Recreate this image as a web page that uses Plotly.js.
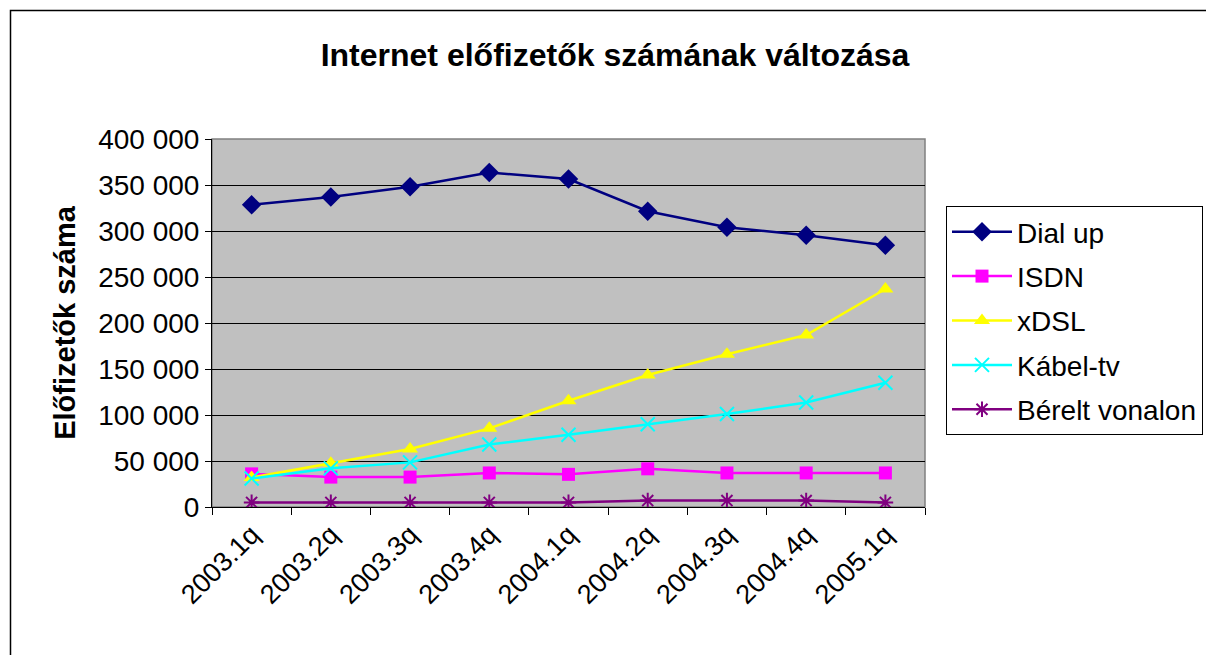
<!DOCTYPE html>
<html>
<head>
<meta charset="utf-8">
<script src="https://cdn.plot.ly/plotly-3.0.1.min.js"></script>
<style>html,body{margin:0;padding:0;background:#fff;}#chart{width:1206px;height:655px;}</style>
</head>
<body>
<div id="chart"></div>
<script>
const categories = ["2003.1q","2003.2q","2003.3q","2003.4q","2004.1q","2004.2q","2004.3q","2004.4q","2005.1q"];
const dialUp  = [328500, 337000, 348000, 363500, 356500, 321500, 304000, 295500, 284500];
const isdn    = [36000, 32500, 32500, 37000, 35500, 41500, 37000, 37000, 37000];
const xdsl    = [32000, 47500, 63000, 85500, 115500, 143500, 166000, 187000, 237000];
const kabelTv = [31000, 42000, 48500, 68000, 78500, 90000, 101000, 113500, 135000];
const berelt  = [5000, 5000, 5000, 5000, 5000, 7000, 7000, 7000, 5000];
const seriesNames = ["Dial up","ISDN","xDSL","Kábel-tv","Bérelt vonalon"];
const yTicks = [0,50000,100000,150000,200000,250000,300000,350000,400000];

const FONT = "Arial, 'Liberation Sans', sans-serif";
function tr(y, name, color, symbol, size, group, open){
  return {
    x: categories, y: y, name: name, type: 'scatter', mode: 'lines+markers',
    legendgroup: group,
    line: {color: color, width: 2.5},
    marker: {symbol: symbol, size: size, color: color, line: {color: color, width: open ? 2 : 0}}
  };
}
const data = [
  tr(dialUp, seriesNames[0], '#000080', 'diamond', 15, 'a', false),
  tr(isdn, seriesNames[1], '#FF00FF', 'square', 13, 'b', false),
  tr(xdsl, seriesNames[2], '#FFFF00', 'triangle-up', 14, 'c', false),
  tr(kabelTv, seriesNames[3], '#00FFFF', 'x-thin-open', 14, 'd', true),
  tr(berelt, seriesNames[4], '#800080', 'asterisk-open', 13, 'e', true)
];
const L=212, R=925, T=139, B=507;
const W=R-L, H=B-T;
function px(x){return (x-L)/W;}
function py(y){return (B-y)/H;}
const layout = {
  width: 1206, height: 655,
  margin: {l: L, r: 1206-R, t: T, b: 655-B, pad: 0, autoexpand: false},
  paper_bgcolor: '#ffffff',
  plot_bgcolor: '#c0c0c0',
  font: {family: FONT, size: 28, color: '#000'},
  separators: ', ',
  title: {text: '<b>Internet előfizetők számának változása</b>', x: 615/1206, xref: 'container', xanchor: 'center',
          y: 1-55/655, yref: 'container', yanchor: 'middle', font: {family: FONT, size: 32, color: '#000'}},
  xaxis: {
    type: 'category', tickson: 'boundaries', ticks: 'outside', ticklen: 7, tickcolor: '#000', tickwidth: 1,
    showgrid: false, showline: true, linecolor: '#000', linewidth: 1, tickangle: -45,
    tickfont: {family: FONT, size: 27}, range: [-0.5, 8.5], zeroline: false, automargin: false
  },
  yaxis: {
    range: [0, 400000], tickvals: yTicks, tickformat: ',.0f', ticks: 'outside', ticklen: 6, tickcolor: '#000',
    showgrid: true, gridcolor: '#000', gridwidth: 1, showline: true, linecolor: '#000', linewidth: 1,
    zeroline: false, tickfont: {family: FONT, size: 28}, automargin: false,
    title: {text: '<b>Előfizetők száma</b>', font: {family: FONT, size: 29}, standoff: 14}
  },
  legend: {
    x: px(946), y: py(206), xanchor: 'left', yanchor: 'top', xref: 'paper', yref: 'paper',
    bordercolor: '#000', borderwidth: 1, bgcolor: '#fff',
    font: {family: FONT, size: 28}, traceorder: 'grouped', tracegroupgap: 5,
    itemwidth: 60
  },
  shapes: [
    {type: 'rect', xref: 'paper', yref: 'paper', x0: 0, x1: 1, y0: 0, y1: 1, line: {color: '#808080', width: 1.5}, layer: 'below'},
    {type: 'rect', xref: 'paper', yref: 'paper', x0: px(10.5), x1: px(1240), y0: py(700), y1: py(10.5), line: {color: '#000', width: 1.5}, fillcolor: 'rgba(0,0,0,0)'}
  ],
  showlegend: true
};
Plotly.newPlot('chart', data, layout, {staticPlot: true, displayModeBar: false});
</script>
</body>
</html>
